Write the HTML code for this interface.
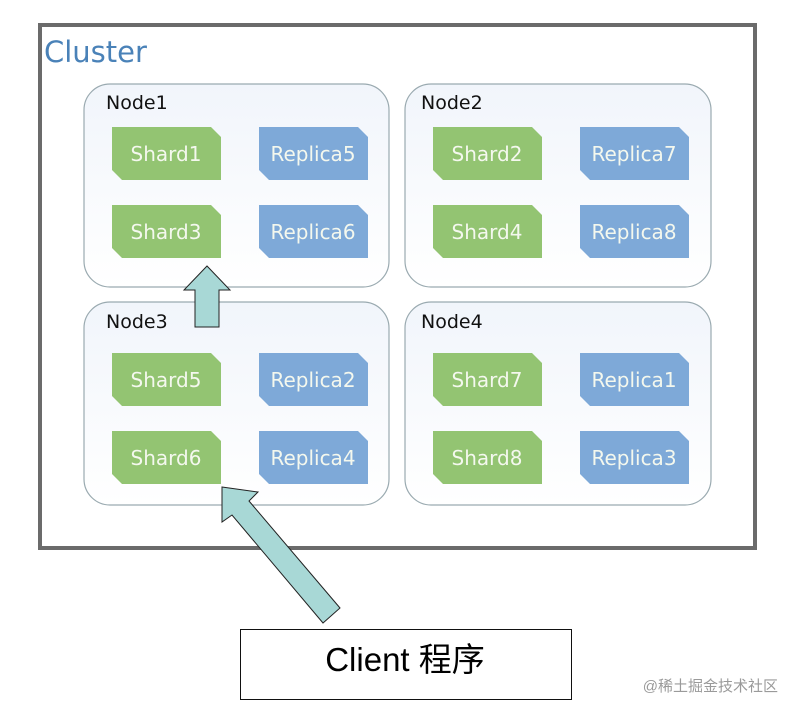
<!DOCTYPE html>
<html><head><meta charset="utf-8"><style>
html,body{margin:0;padding:0;background:#fff;}
svg{display:block;}
.n{font-family:"DejaVu Sans","Liberation Sans",sans-serif;font-size:19px;fill:#111;}
.b{font-family:"DejaVu Sans","Liberation Sans",sans-serif;font-size:20px;fill:#f4f8ee;text-anchor:middle;}
</style></head><body>
<svg width="796" height="714" viewBox="0 0 796 714" xmlns="http://www.w3.org/2000/svg">
<defs>
<linearGradient id="ng" x1="0" y1="0" x2="0" y2="1"><stop offset="0" stop-color="#f1f5fb"/><stop offset="1" stop-color="#ffffff"/></linearGradient>
<path id="sh" d="M0,0 H99 L109,10 V53 H10 L0,43 Z"/>
</defs>
<rect x="40" y="25" width="715" height="523" fill="#fff" stroke="#6b6b6b" stroke-width="4"/>
<text x="44" y="62" font-family="DejaVu Sans,Liberation Sans,sans-serif" font-size="29" fill="#4a82b8">Cluster</text>

<rect x="84" y="84" width="305" height="203" rx="26" fill="url(#ng)" stroke="#9aaab0" stroke-width="1.2"/>
<rect x="405" y="84" width="306" height="203" rx="26" fill="url(#ng)" stroke="#9aaab0" stroke-width="1.2"/>
<rect x="84" y="302" width="305" height="203" rx="26" fill="url(#ng)" stroke="#9aaab0" stroke-width="1.2"/>
<rect x="405" y="302" width="306" height="203" rx="26" fill="url(#ng)" stroke="#9aaab0" stroke-width="1.2"/>
<text class="n" x="106" y="109">Node1</text>
<text class="n" x="421" y="109">Node2</text>
<text class="n" x="106" y="328">Node3</text>
<text class="n" x="421" y="328">Node4</text>

<g fill="#93c472">
<use href="#sh" x="112" y="127"/><use href="#sh" x="112" y="205"/>
<use href="#sh" x="433" y="127"/><use href="#sh" x="433" y="205"/>
<use href="#sh" x="112" y="353"/><use href="#sh" x="112" y="431"/>
<use href="#sh" x="433" y="353"/><use href="#sh" x="433" y="431"/>
</g>
<g fill="#7ea9d8">
<use href="#sh" x="259" y="127"/><use href="#sh" x="259" y="205"/>
<use href="#sh" x="580" y="127"/><use href="#sh" x="580" y="205"/>
<use href="#sh" x="259" y="353"/><use href="#sh" x="259" y="431"/>
<use href="#sh" x="580" y="353"/><use href="#sh" x="580" y="431"/>
</g>
<text class="b" x="166" y="161">Shard1</text><text class="b" x="313" y="161">Replica5</text>
<text class="b" x="166" y="239">Shard3</text><text class="b" x="313" y="239">Replica6</text>
<text class="b" x="487" y="161">Shard2</text><text class="b" x="634" y="161">Replica7</text>
<text class="b" x="487" y="239">Shard4</text><text class="b" x="634" y="239">Replica8</text>
<text class="b" x="166" y="387">Shard5</text><text class="b" x="313" y="387">Replica2</text>
<text class="b" x="166" y="465">Shard6</text><text class="b" x="313" y="465">Replica4</text>
<text class="b" x="487" y="387">Shard7</text><text class="b" x="634" y="387">Replica1</text>
<text class="b" x="487" y="465">Shard8</text><text class="b" x="634" y="465">Replica3</text>

<path d="M207,266 L230,290 L219,290 L219,327 L195,327 L195,290 L184,290 Z" fill="#a8d8d6" stroke="#222" stroke-width="1"/>
<path d="M222,487 L258,492 L249,501 L340,608 L323,623 L232,515 L222,522 Z" fill="#a8d8d6" stroke="#222" stroke-width="1"/>

<rect x="240.5" y="629.5" width="331" height="70" fill="#fff" stroke="#111" stroke-width="1"/>
<text x="405" y="671" text-anchor="middle" font-family="Liberation Sans,Noto Sans CJK SC,sans-serif" font-size="33" fill="#000">Client 程序</text>
<text x="778" y="691" text-anchor="end" font-family="Liberation Sans,Noto Sans CJK SC,sans-serif" font-size="15" fill="#9a9a9a">@稀土掘金技术社区</text>
</svg>
</body></html>
